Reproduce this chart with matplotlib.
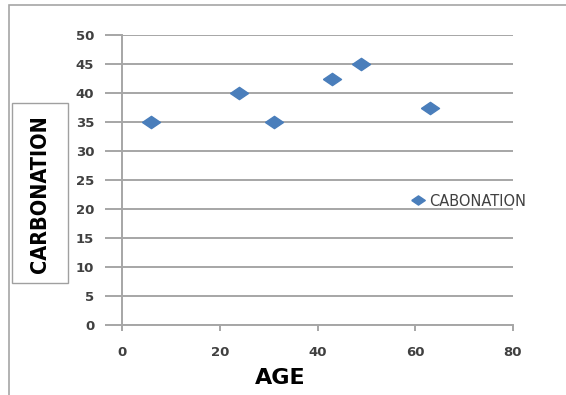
import matplotlib.pyplot as plt
from matplotlib.patches import Rectangle

# valores
age = [6, 24, 31, 43, 49, 63]
carbonation = [35, 40, 35, 42.5, 45, 37.5]
serie = 'CABONATION'
xticks = [0, 20, 40, 60, 80]
yticks = [0, 5, 10, 15, 20, 25, 30, 35, 40, 45, 50]

azul = '#4a7ebb'
cinza = '#a6a6a6'
texto = '#404040'

# losango achatado como no excel
losango = [(-1, 0), (0, 0.68), (1, 0), (0, -0.68), (-1, 0)]

fig = plt.figure(figsize=(5.66, 3.95), dpi=100)
ax = fig.add_axes([122/566, 1 - 325/395, (513-122)/566, (325-35)/395])

ax.plot(age, carbonation, linestyle='none', marker=losango, markersize=13,
        color=azul, label=serie, clip_on=False, zorder=3)

ax.set_xlim(0, 80)
ax.set_ylim(0, 50)
ax.set_xticks(xticks)
ax.set_yticks(yticks)
ax.yaxis.grid(True, color=cinza, linewidth=1.4)
ax.set_axisbelow(True)
for s in ['top', 'right']:
    ax.spines[s].set_visible(False)
for s in ['left', 'bottom']:
    ax.spines[s].set_color(cinza)
    ax.spines[s].set_linewidth(1.4)

ax.tick_params(axis='y', length=12, width=1.4, color=cinza, pad=8,
               labelsize=9.5, labelcolor=texto)
ax.tick_params(axis='x', length=4, width=1.4, color=cinza, pad=11,
               labelsize=9.5, labelcolor=texto)
for t in ax.get_xticklabels() + ax.get_yticklabels():
    t.set_fontweight('bold')

# titulo do eixo x
fig.text(280/566, 1 - 378/395, 'AGE', ha='center', va='center',
         fontsize=16, fontweight='bold', color='black')

# titulo do eixo y dentro de caixa
fig.patches.append(Rectangle((12/566, 1 - 283/395), 56/566, 180/395,
                             transform=fig.transFigure, fill=False,
                             edgecolor='#a0a0a0', linewidth=1))
fig.text(40/566, 1 - 194/395, 'CARBONATION', rotation=90, ha='center',
         va='center', fontsize=15.5, fontweight='bold', color='black',
         fontstretch='condensed')

# moldura externa
fig.patches.append(Rectangle((9/566, -0.1), 1.2, 1 - 5/395 + 0.1,
                             transform=fig.transFigure, fill=False,
                             edgecolor='#a6a6a6', linewidth=1.2))

leg = ax.legend(loc='center left', bbox_to_anchor=(404/566, 1 - 201/395),
                bbox_transform=fig.transFigure, frameon=False,
                handlelength=0.9, handletextpad=0.35, borderpad=0,
                prop={'size': 10.5}, markerscale=0.75)
for t in leg.get_texts():
    t.set_color(texto)

plt.savefig('out.png', dpi=100)
